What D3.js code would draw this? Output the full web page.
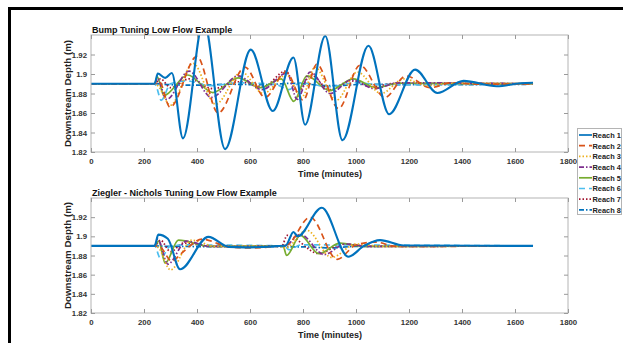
<!DOCTYPE html>
<html>
<head>
<meta charset="utf-8">
<script src="https://cdn.jsdelivr.net/npm/d3@7"></script>
<style>
  body { margin: 0; background: #fff; }
  svg { display: block; font-family: "Liberation Sans", Arial, sans-serif; font-weight: bold; }
</style>
</head>
<body>
<svg width="623" height="343"></svg>
<script>
// reach names and tick labels
var reachNames = ["Reach 1", "Reach 2", "Reach 3", "Reach 4", "Reach 5", "Reach 6", "Reach 7", "Reach 8"];
var xTicks = [0, 200, 400, 600, 800, 1000, 1200, 1400, 1600, 1800];
var yTicks = [1.82, 1.84, 1.86, 1.88, 1.9, 1.92];

// bump tuning, [minutes, depth]
var bump1 = [[0,1.89],[240,1.89],[252,1.9005],[280,1.896],[305,1.901],[347,1.834],[425,1.955],[506,1.823],[603,1.925],[686,1.862],[764,1.917],[808,1.848],[884,1.939],[949,1.832],[1047,1.929],[1125,1.8587],[1223,1.9045],[1307,1.8805],[1406,1.893],[1531,1.8875],[1620,1.8905],[1668,1.891]];
var bump2 = [[0,1.89],[240,1.89],[258,1.892],[298,1.866],[400,1.918],[480,1.86],[581,1.907],[657,1.876],[735,1.902],[801,1.873],[852,1.91],[934,1.8645],[1015,1.909],[1109,1.876],[1189,1.898],[1280,1.886],[1361,1.891],[1450,1.8895],[1668,1.89]];
var bump3 = [[0,1.89],[240,1.89],[252,1.888],[300,1.868],[385,1.911],[470,1.869],[568,1.902],[650,1.88],[738,1.899],[795,1.876],[845,1.907],[925,1.873],[1005,1.902],[1095,1.88],[1180,1.895],[1270,1.888],[1350,1.8905],[1668,1.89]];
var bump4 = [[0,1.89],[240,1.89],[250,1.895],[285,1.874],[370,1.903],[455,1.876],[555,1.898],[645,1.884],[740,1.901],[778,1.874],[827,1.902],[902,1.88],[984,1.894],[1070,1.885],[1160,1.891],[1668,1.89]];
var bump5 = [[0,1.89],[240,1.89],[250,1.897],[275,1.878],[365,1.899],[460,1.881],[555,1.896],[640,1.886],[718,1.895],[765,1.872],[815,1.898],[900,1.883],[990,1.895],[1075,1.886],[1160,1.8905],[1668,1.89]];
var bump6 = [[0,1.89],[240,1.89],[248,1.886],[265,1.873],[300,1.89],[360,1.893],[450,1.888],[560,1.891],[700,1.889],[745,1.884],[790,1.891],[900,1.887],[1000,1.891],[1100,1.889],[1668,1.89]];
var bump7 = [[0,1.89],[240,1.89],[262,1.895],[300,1.886],[370,1.895],[460,1.885],[560,1.892],[650,1.887],[735,1.903],[780,1.881],[830,1.899],[900,1.884],[980,1.893],[1060,1.887],[1150,1.8905],[1668,1.89]];
var bump8 = [[0,1.89],[240,1.89],[300,1.889],[400,1.8885],[520,1.8895],[650,1.889],[760,1.8905],[900,1.888],[1050,1.8895],[1200,1.889],[1668,1.8895]];

// ziegler - nichols tuning
var zn1 = [[0,1.89],[240,1.89],[254,1.9018],[290,1.8975],[336,1.8656],[443,1.8994],[520,1.889],[580,1.8885],[700,1.8898],[735,1.8905],[764,1.9046],[780,1.9],[871,1.9298],[971,1.8787],[1030,1.89],[1091,1.896],[1180,1.8905],[1668,1.89]];
var zn2 = [[0,1.89],[240,1.89],[260,1.889],[305,1.874],[340,1.882],[420,1.897],[520,1.889],[600,1.888],[700,1.8895],[740,1.891],[827,1.92],[929,1.876],[1000,1.891],[1075,1.894],[1150,1.8895],[1668,1.89]];
var zn3 = [[0,1.89],[240,1.89],[255,1.888],[300,1.865],[380,1.896],[470,1.8895],[700,1.89],[735,1.888],[814,1.9063],[908,1.878],[1000,1.892],[1100,1.8895],[1668,1.89]];
var zn4 = [[0,1.89],[240,1.89],[252,1.897],[290,1.871],[360,1.895],[450,1.8895],[730,1.89],[790,1.902],[880,1.881],[960,1.892],[1050,1.8895],[1668,1.89]];
var zn5 = [[0,1.89],[240,1.89],[255,1.895],[280,1.872],[330,1.896],[450,1.8895],[725,1.89],[738,1.88],[790,1.901],[860,1.882],[940,1.893],[1030,1.8895],[1668,1.89]];
var zn6 = [[0,1.89],[240,1.89],[262,1.877],[300,1.89],[350,1.891],[730,1.89],[748,1.886],[790,1.891],[1668,1.89]];
var zn7 = [[0,1.89],[240,1.89],[262,1.896],[300,1.884],[350,1.893],[450,1.8895],[720,1.89],[740,1.901],[860,1.882],[950,1.892],[1040,1.8895],[1668,1.89]];
var zn8 = [[0,1.89],[240,1.89],[300,1.8895],[800,1.889],[900,1.888],[1000,1.8895],[1668,1.89]];

var colors = ["#0072BD", "#D95319", "#EDB120", "#7E2F8E", "#77AC30", "#4DBEEE", "#A2142F", "#0072BD"];
var dashes = [null, "6,4", "1.5,2", "5,2,1.5,2", null, "6,4", "1.5,2", "5,2,1.5,2"];

var svg = d3.select("svg");

// outer frame
svg.append("rect")
  .attr("x", 9.5).attr("y", 8.5)
  .attr("width", 640).attr("height", 360)
  .attr("fill", "none").attr("stroke", "#000").attr("stroke-width", 3);

var drawPanel = function(id, top, bottom, title, series) {
  var x = d3.scaleLinear().domain([0, 1800]).range([91, 568]);
  var y = d3.scaleLinear().domain([1.82, 1.94]).range([bottom, top]);
  var g = svg.append("g");

  g.append("clipPath").attr("id", id)
    .append("rect").attr("x", 91).attr("y", top).attr("width", 477).attr("height", bottom - top);

  var line = d3.line()
    .x(function(d) { return x(d[0]); })
    .y(function(d) { return y(d[1]); })
    .curve(d3.curveMonotoneX);

  // last series drawn first so reach 1 sits on top
  for (var i = series.length - 1; i >= 0; i--) {
    g.append("path")
      .datum(series[i])
      .attr("clip-path", "url(#" + id + ")")
      .attr("d", line)
      .attr("fill", "none")
      .attr("stroke", colors[i])
      .attr("stroke-width", i == 0 ? 2.1 : 1.7)
      .attr("stroke-dasharray", dashes[i]);
  }

  // box
  g.append("rect")
    .attr("x", 91).attr("y", top).attr("width", 477).attr("height", bottom - top)
    .attr("fill", "none").attr("stroke", "#b4b4b4").attr("stroke-width", 1);

  var xa = g.append("g").attr("transform", "translate(0," + bottom + ")")
    .call(d3.axisBottom(x).tickValues(xTicks).tickSize(-4).tickPadding(6).tickFormat(d3.format("d")));
  var xt = g.append("g").attr("transform", "translate(0," + top + ")")
    .call(d3.axisTop(x).tickValues(xTicks).tickSize(-4).tickFormat(""));
  var ya = g.append("g").attr("transform", "translate(91,0)")
    .call(d3.axisLeft(y).tickValues(yTicks).tickSize(-4).tickPadding(4).tickFormat(function(d) { return d == 1.9 ? "1.9" : d3.format(".2f")(d); }));
  var yr = g.append("g").attr("transform", "translate(568,0)")
    .call(d3.axisRight(y).tickValues(yTicks).tickSize(-4).tickFormat(""));

  [xa, xt, ya, yr].forEach(function(a) {
    a.select(".domain").remove();
    a.selectAll(".tick line").attr("stroke", "#9a9a9a");
    a.selectAll("text").attr("fill", "#333").style("font-size", "7.8px").style("font-weight", "bold")
      .style("font-family", "Liberation Sans, Arial, sans-serif");
  });

  g.append("text").attr("x", 92).attr("y", top - 2.5)
    .style("font-size", "9px").attr("fill", "#111").text(title);
  g.append("text").attr("x", 330).attr("y", bottom + 25).attr("text-anchor", "middle")
    .style("font-size", "9px").attr("fill", "#222").text("Time (minutes)");
  g.append("text").attr("transform", "translate(71," + ((top + bottom) / 2) + ") rotate(-90)")
    .attr("text-anchor", "middle").style("font-size", "9.8px").attr("fill", "#222").text("Downstream Depth (m)");
};

drawPanel("clipA", 35, 152, "Bump Tuning Low Flow Example", [bump1, bump2, bump3, bump4, bump5, bump6, bump7, bump8]);
drawPanel("clipB", 198, 313, "Ziegler - Nichols Tuning Low Flow Example", [zn1, zn2, zn3, zn4, zn5, zn6, zn7, zn8]);

// legend
var lg = svg.append("g");
lg.append("rect").attr("x", 577.5).attr("y", 128.5).attr("width", 44).attr("height", 86)
  .attr("fill", "#fff").attr("stroke", "#b4b4b4");
reachNames.forEach(function(name, i) {
  var ry = 135 + i * 10.7;
  lg.append("line").attr("x1", 579).attr("x2", 592).attr("y1", ry).attr("y2", ry)
    .attr("stroke", colors[i]).attr("stroke-width", 1.7).attr("stroke-dasharray", dashes[i]);
  lg.append("text").attr("x", 592.5).attr("y", ry + 2.8).style("font-size", "7.4px")
    .attr("fill", "#222").text(name);
});
</script>
</body>
</html>
